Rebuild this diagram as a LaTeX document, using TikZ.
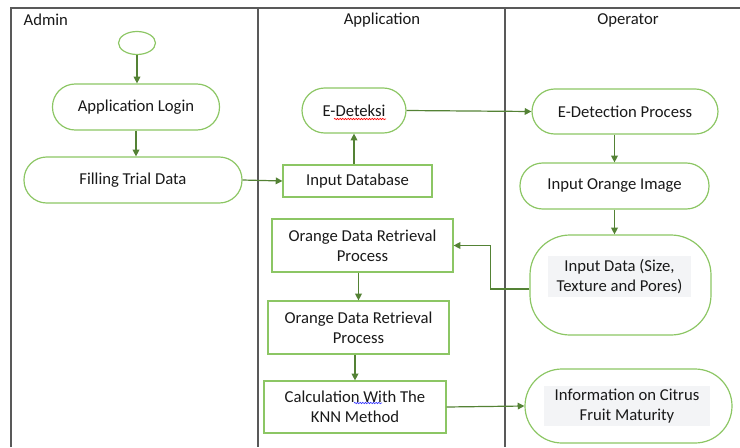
\documentclass[tikz,border=0pt]{standalone}
\usepackage{fontspec}
\setmainfont{Carlito}
\usepackage{xcolor}
\usepackage{tikz}
\usetikzlibrary{arrows.meta,shapes.geometric,decorations.pathmorphing}
\definecolor{boxgreen}{RGB}{140,198,100}
\definecolor{arrowgreen}{RGB}{84,130,53}
\definecolor{lanegray}{RGB}{89,89,89}
\definecolor{textbg}{RGB}{243,244,246}
\tikzset{
  lane/.style={draw=lanegray,line width=1.1pt},
  lanetitle/.style={font=\fontsize{12.5}{14}\selectfont,text=black!90},
  activity/.style={draw=boxgreen,line width=0.9pt,rectangle,align=center,
    font=\fontsize{12.5}{15}\selectfont,text=black!90,inner sep=2pt},
  terminal/.style={activity,rounded corners=#1},
  terminal/.default=17pt,
  process/.style={activity},
  flow/.style={draw=arrowgreen,line width=0.9pt,-{Triangle[width=5pt,length=5pt]}},
  spell/.style={decorate,decoration={snake,amplitude=0.5pt,segment length=2pt},line width=0.5pt}
}
\begin{document}
\begin{tikzpicture}[x=0.75pt,y=-0.75pt]
  \useasboundingbox (0,0) rectangle (740,447);
  % swimlanes
  \draw[lane] (11,447) -- (11,8) -- (740,8);
  \draw[lane] (258,8) -- (258,447);
  \draw[lane] (505,8) -- (505,447);
  \node[lanetitle,anchor=west] (admin) at (19,20) {Admin};
  \node[lanetitle] (app) at (382,20) {Application};
  \node[lanetitle] (oper) at (628,20) {Operator};

  % admin lane
  \node[ellipse,draw=boxgreen,line width=0.9pt,minimum width=27.75pt,minimum height=17.25pt] (start) at (137,43) {};
  \node[terminal,minimum width=125.25pt,minimum height=34.5pt] (login) at (136,107) {Application Login};
  \node[terminal,minimum width=163.5pt,minimum height=34.5pt] (filling) at (133,180) {Filling Trial Data};

  % application lane
  \node[process,minimum width=111.75pt,minimum height=24pt] (indb) at (357.5,181) {Input Database};
  \node[terminal,minimum width=78pt,minimum height=33.75pt] (edeteksi) at (354,110.5) {E-Deteksi};
  \node[process,minimum width=135.75pt,minimum height=39.75pt] (retr1) at (362.5,245.5) {Orange Data Retrieval\\Process};
  \node[process,minimum width=135.75pt,minimum height=39.75pt] (retr2) at (358.5,327.5) {Orange Data Retrieval\\Process};
  \node[process,minimum width=136.5pt,minimum height=39pt] (calc) at (355,407) {Calculation With The\\KNN Method};

  % operator lane
  \node[terminal,minimum width=139.5pt,minimum height=33.75pt] (edetect) at (625,111.5) {E-Detection Process};
  \node[terminal,minimum width=141.75pt,minimum height=34.5pt] (inimg) at (614.5,186) {Input Orange Image};
  \node[terminal=30pt,minimum width=135.75pt,minimum height=75pt] (indata) at (620.5,285) {};
  \node[fill=textbg,align=center,font=\fontsize{12.5}{15}\selectfont,text=black!90,minimum width=107pt,minimum height=31pt,inner sep=1pt] (indatatext) at (619.5,276.5) {Input Data (Size,\\Texture and Pores)};
  \node[terminal=27.75pt,minimum width=155.25pt,minimum height=55.5pt] (info) at (628.5,406) {};
  \node[fill=textbg,align=center,font=\fontsize{12.5}{15}\selectfont,text=black!90,minimum width=124.5pt,minimum height=30pt,inner sep=1pt] (infotext) at (627,406) {Information on Citrus\\Fruit Maturity};

  % spelling marks
  \draw[red,spell] (334,119) -- (386,119);
  \draw[blue!80,spell] (354,403) -- (382,403);

  % connectors
  \draw[flow] (start) -- (start |- login.north);
  \draw[flow] (login) -- (login |- filling.north);
  \draw[flow] (filling.east) -- (indb.west);
  \draw[flow] (edeteksi |- indb.north) -- (edeteksi.south);
  \draw[flow] (edeteksi.east) -- (edetect.west);
  \draw[flow] (inimg |- edetect.south) -- (inimg.north);
  \draw[flow] (inimg.south) -- (inimg.south |- indata.north);
  \draw[flow] (indata.west) ++(0,4) -- ++(-39,0) |- (retr1.east);
  \draw[flow] (retr2 |- retr1.south) -- (retr2.north);
  \draw[flow] (calc |- retr2.south) -- (calc.north);
  \draw[flow] (calc.east) -- (info.west);
\end{tikzpicture}
\end{document}
